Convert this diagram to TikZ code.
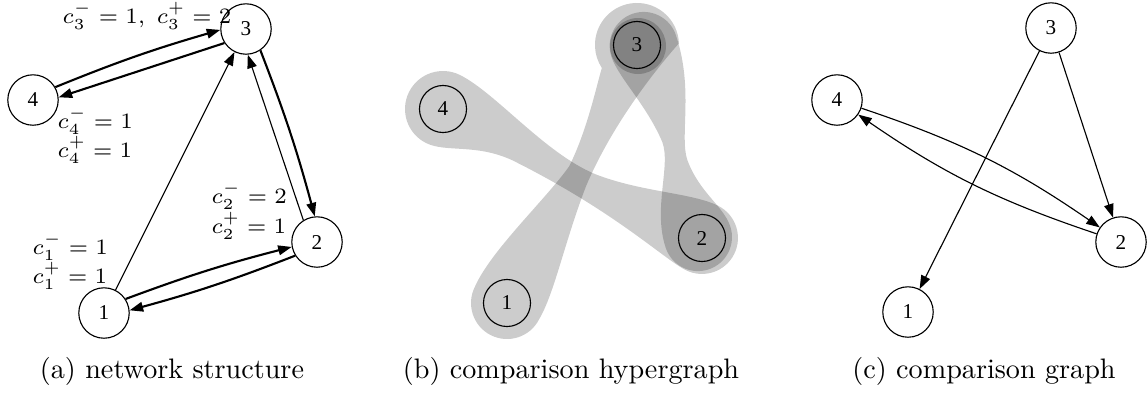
\RequirePackage{fix-cm}
\documentclass[tikz,border=0pt]{standalone}
\usepackage{fontspec}
\newfontfamily\numfont{Liberation Serif}
\usetikzlibrary{arrows.meta}
\begin{document}
\begin{tikzpicture}[x=0.355pt, y=0.355pt,
  vtx/.style={circle, draw, line width=0.4pt, inner sep=0pt, minimum size=17.9pt, font=\numfont\fontsize{7.5}{8}\selectfont},
  vtxb/.style={vtx, minimum size=16.7pt},
  tipx/.style={-{Triangle[length=4.8pt,width=3.4pt]}},
  thk/.style={tipx, line width=0.75pt},
  thn/.style={tipx, line width=0.4pt},
  lbl/.style={inner sep=0pt, anchor=base west, font=\fontsize{7.8}{9}\selectfont},
  captxt/.style={inner sep=0pt, anchor=base, font=\fontsize{10}{12}\selectfont},
  blob/.style={fill=black, fill opacity=0.2}]
\useasboundingbox (0,0) rectangle (1148,-392);

% ---------------- (a) network structure ----------------
\node[vtx] (a3) at (246,-29) {3};
\node[vtx] (a4) at (33,-100) {4};
\node[vtx] (a2) at (317,-242) {2};
\node[vtx] (a1) at (104,-313) {1};

\draw[thk] (a4.30) to[bend left=3] (a3.182);
\draw[thk] (a3.213) -- (a4.6);
\draw[thn] (a1) -- (a3);
\draw[thn] (a2.122) -- (a3.274);
\draw[thk] (a3.304) to[bend left=3] (a2.95);
\draw[thk] (a1.33) to[bend left=3] (a2.191);
\draw[thk] (a2.212) to[bend left=3] (a1.6);

\node[lbl] (l3) at (62,-23) {$c_3^-=1,\;c_3^+=2$};
\node[lbl] (l4a) at (57,-128) {$c_4^-=1$};
\node[lbl] (l4b) at (57,-157) {$c_4^+=1$};
\node[lbl] (l2a) at (211,-203) {$c_2^-=2$};
\node[lbl] (l2b) at (211,-233) {$c_2^+=1$};
\node[lbl] (l1a) at (32,-254) {$c_1^-=1$};
\node[lbl] (l1b) at (32,-283) {$c_1^+=1$};

\node[captxt] (capa) at (172,-378) {(a) network structure};

% ---------------- (b) comparison hypergraph ----------------
\coordinate (p3) at (637,-45);
\coordinate (p4) at (443,-109);
\coordinate (p2) at (702,-238);
\coordinate (p1) at (507,-303);

% hyperedge {4,2}
\begin{scope}[shift={(p4)}, rotate=-26.47]
\fill[blob] (0,38) arc[start angle=90,end angle=270,radius=38]
  .. controls (22,-38) and (45,-16) .. (85,-15)
  .. controls (200,-15) and (265,-36) .. (289.3,-36)
  arc[start angle=-90,end angle=90,radius=36]
  .. controls (260,36) and (215,14) .. (165,9.5)
  .. controls (110,6) and (40,38) .. (0,38) -- cycle;
\end{scope}
% hyperedge {1,3}
\begin{scope}[shift={(p1)}, rotate=63.26]
\fill[blob] (0,36) arc[start angle=90,end angle=270,radius=36]
  .. controls (30,-38) and (80,-24) .. (140,-18)
  .. controls (200,-14) and (265,-25) .. (309.3,-36.7)
  arc[start angle=-61,end angle=150,radius=42]
  .. controls (235,18) and (190,6) .. (150,6)
  .. controls (110,12) and (40,38) .. (0,36) -- cycle;
\end{scope}
% hyperedge {3,2}
\begin{scope}[shift={(p3)}, rotate=-71.39]
\fill[blob] (3,40) arc[start angle=90,end angle=270,radius=34]
  .. controls (25,-28) and (60,-10) .. (100,-7)
  .. controls (125,-6) and (160,-37.5) .. (201.5,-37.5)
  arc[start angle=-90,end angle=90,radius=34]
  .. controls (180,30.5) and (160,12) .. (125,11)
  .. controls (100,11) and (60,40) .. (3,40) -- cycle;
\end{scope}
\fill[blob] (638,-46) circle[radius=28];

\node[vtxb] (b3) at (p3) {3};
\node[vtxb] (b4) at (p4) {4};
\node[vtxb] (b2) at (p2) {2};
\node[vtxb] (b1) at (p1) {1};

\node[captxt] (capb) at (571,-378) {(b) comparison hypergraph};

% ---------------- (c) comparison graph ----------------
\node[vtx] (c3) at (1051,-28) {3};
\node[vtx] (c4) at (837,-100) {4};
\node[vtx] (c2) at (1121,-242) {2};
\node[vtx] (c1) at (908,-312) {1};

\draw[thn] (c3) -- (c1);
\draw[thn] (c3) -- (c2);
\draw[thn] (c4) to[bend left=8] (c2);
\draw[thn] (c2) to[bend left=8] (c4);

\node[captxt] (capc) at (984,-378) {(c) comparison graph};
\end{tikzpicture}
\end{document}
